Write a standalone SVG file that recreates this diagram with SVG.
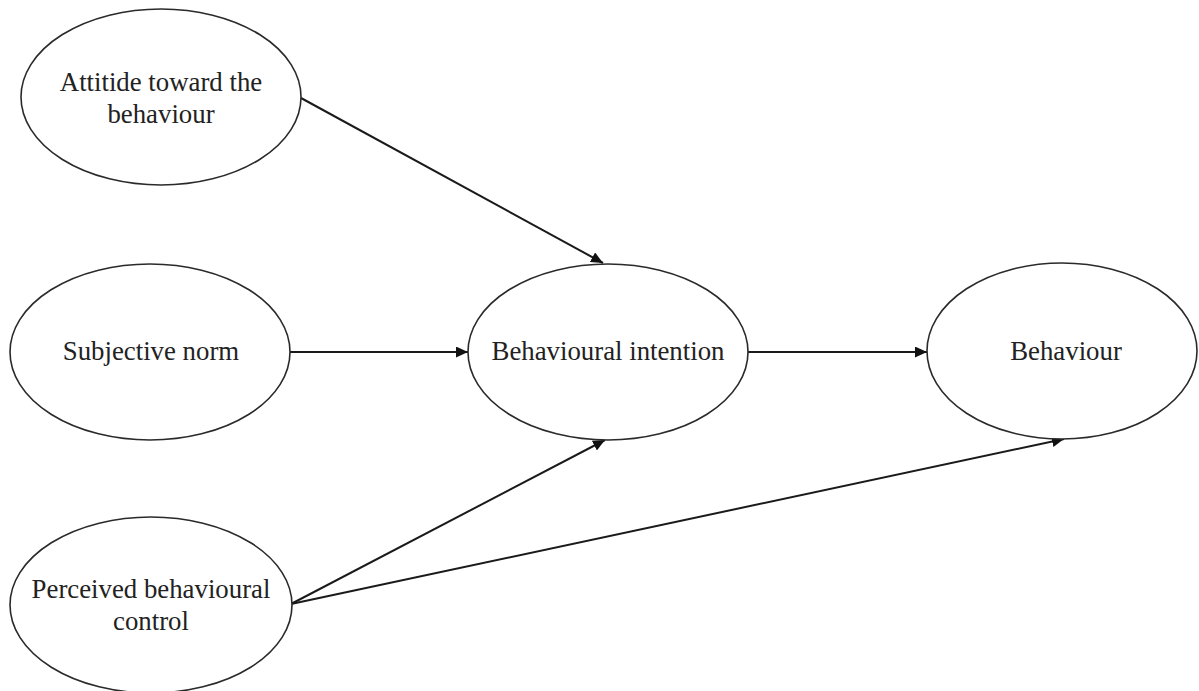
<svg xmlns="http://www.w3.org/2000/svg" width="1199" height="691" viewBox="0 0 1199 691">
  <style>
    .node ellipse { fill: #ffffff; stroke: #2a2a2a; stroke-width: 1.6; }
    .node text { font-family: "Liberation Serif", "Times New Roman", serif; font-size: 26.8px; fill: #222222; text-anchor: middle; }
    .edge { stroke: #1a1a1a; stroke-width: 2; fill: none; marker-end: url(#arrow); }
  </style>
  <defs>
    <marker id="arrow" viewBox="0 0 12 11" refX="12" refY="5.5" markerWidth="12" markerHeight="11" markerUnits="userSpaceOnUse" orient="auto">
      <path d="M0,0 L12,5.5 L0,11 Z" fill="#111111"/>
    </marker>
  </defs>
  <rect width="1199" height="691" fill="#ffffff"/>

  <g id="connectors">
    <line class="edge" x1="301" y1="98" x2="603" y2="263"/>
    <line class="edge" x1="290" y1="352" x2="468" y2="352"/>
    <line class="edge" x1="748" y1="352" x2="927" y2="352"/>
    <line class="edge" x1="291" y1="604" x2="605" y2="440"/>
    <line class="edge" x1="291" y1="604" x2="1064" y2="439"/>
  </g>

  <g id="attitude" class="node">
    <ellipse cx="161" cy="97" rx="140" ry="88"/>
    <text x="161" y="91">Attitide toward the</text>
    <text x="161" y="123">behaviour</text>
  </g>

  <g id="subjective-norm" class="node">
    <ellipse cx="150" cy="352" rx="140" ry="88"/>
    <text x="151" y="360">Subjective norm</text>
  </g>

  <g id="perceived-control" class="node">
    <ellipse cx="151" cy="605" rx="141" ry="88"/>
    <text x="151" y="598">Perceived behavioural</text>
    <text x="151" y="630">control</text>
  </g>

  <g id="intention" class="node">
    <ellipse cx="608" cy="352" rx="140" ry="88"/>
    <text x="608" y="360">Behavioural intention</text>
  </g>

  <g id="behaviour" class="node">
    <ellipse cx="1062" cy="351" rx="135" ry="88"/>
    <text x="1066" y="360">Behaviour</text>
  </g>
</svg>
